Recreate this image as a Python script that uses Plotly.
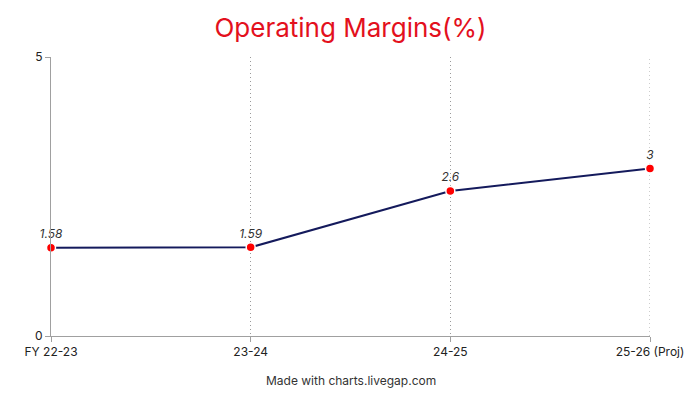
import plotly.graph_objects as go

categories = ["FY 22-23", "23-24", "24-25", "25-26 (Proj)"]
values = [1.58, 1.59, 2.6, 3]
labels = ["1.58", "1.59", "2.6", "3"]
y_ticks = [0, 5]

fig = go.Figure()
fig.add_trace(go.Scatter(
    x=list(range(len(categories))), y=values,
    mode="lines+markers+text",
    text=labels, textposition="top center",
    textfont=dict(family="Inter", size=12, color="#333333", style="italic"),
    line=dict(color="#141a5c", width=2),
    marker=dict(color="#ff0000", size=9, line=dict(color="white", width=1.5)),
    cliponaxis=False,
    hoverinfo="skip",
))

# last category gridline (plotly drops the gridline sitting on the plot edge)
fig.add_vline(x=len(categories) - 1, line=dict(color="#9a9a9a", width=1, dash="1px,3px"), layer="below")

fig.update_layout(
    width=692, height=392,
    margin=dict(l=43, r=50, t=49, b=64),
    paper_bgcolor="white", plot_bgcolor="white",
    showlegend=False,
    font=dict(family="Inter", size=12, color="#333333"),
    title=dict(text="Operating Margins(%)", x=0.5, xanchor="center", xref="paper",
               y=1 - 20 / 392, yref="container", yanchor="middle",
               font=dict(family="Inter", size=26, color="#e3101d")),
    xaxis=dict(
        range=[0, 3], tickmode="array", tickvals=list(range(len(categories))), ticktext=categories,
        showgrid=True, gridcolor="#9a9a9a", griddash="1px,3px", gridwidth=1,
        showline=True, linecolor="#a0a0a0", linewidth=1,
        ticks="outside", ticklen=5, tickcolor="#a0a0a0",
        zeroline=False, automargin=False, tickfont=dict(size=12, color="#222222"),
    ),
    yaxis=dict(
        range=[0, 5], tickmode="array", tickvals=y_ticks,
        showgrid=False, showline=True, linecolor="#a0a0a0", linewidth=1,
        ticks="outside", ticklen=5, tickcolor="#a0a0a0",
        zeroline=False, automargin=False, tickfont=dict(size=12, color="#222222"),
    ),
    annotations=[dict(text="Made with charts.livegap.com", x=0.5, xref="paper",
                      y=-0.158, yref="paper", yanchor="middle",
                      showarrow=False, font=dict(size=12, color="#333333"))],
)
fig.write_html("out.html")
